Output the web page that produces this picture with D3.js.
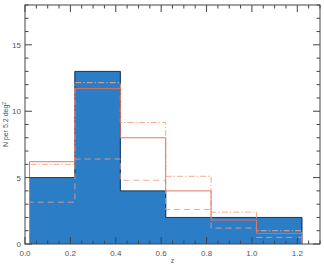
<!DOCTYPE html>
<html>
<head>
<meta charset="utf-8" />
<script src="https://cdn.jsdelivr.net/npm/d3@7"></script>
<style>
  body { margin: 0; background: #fff; }
  text { font-family: "Liberation Sans", "DejaVu Sans", sans-serif; fill: #555; }
</style>
</head>
<body>
<div id="chart"></div>
<script>
// bin edges in z
var binEdges = [0.02, 0.22, 0.42, 0.62, 0.82, 1.02, 1.22];
// counts per bin
var observed = [5, 13, 4, 2, 2, 2];
var modelSolid = [6.2, 11.7, 8.0, 4.0, 1.8, 0.8];
var modelDashDot = [6.0, 12.15, 9.15, 5.1, 2.4, 1.0];
var modelDashed = [3.15, 6.4, 4.8, 2.6, 1.2, 0.5];

var xTicks = [0.0, 0.2, 0.4, 0.6, 0.8, 1.0, 1.2];
var yTicks = [0, 5, 10, 15];

var W = 324, H = 267;
var pLeft = 25, pRight = 320, pTop = 5, pBottom = 244;

var svg = d3.select("#chart").append("svg")
  .attr("width", W).attr("height", H);

var x = d3.scaleLinear().domain([0, 1.3]).range([pLeft, pRight]);
var y = d3.scaleLinear().domain([0, 18]).range([pBottom, pTop]);

// filled bars (slightly overlapped so no seams show)
svg.selectAll("rect.bar")
  .data(observed).enter()
  .append("rect")
  .attr("class", "bar")
  .attr("x", function (d, i) { return x(binEdges[i]) - 0.5; })
  .attr("width", function (d, i) { return x(binEdges[i + 1]) - x(binEdges[i]) + 1; })
  .attr("y", function (d) { return y(d); })
  .attr("height", function (d) { return y(0) - y(d); })
  .style("fill", "#2b7dc6");

function stepPoints(vals) {
  var pts = [[binEdges[0], 0]];
  vals.forEach(function (v, i) {
    pts.push([binEdges[i], v]);
    pts.push([binEdges[i + 1], v]);
  });
  pts.push([binEdges[binEdges.length - 1], 0]);
  return pts;
}

var line = d3.line()
  .x(function (d) { return x(d[0]); })
  .y(function (d) { return y(d[1]); });

// outline of observed histogram
svg.append("path")
  .attr("d", line(stepPoints(observed)))
  .style("fill", "none").style("stroke", "#1d3550").style("stroke-width", 1);

var series = [
  { vals: modelDashDot, color: "#f2a98a", dash: "6,2,1.5,2", opacity: 0.95 },
  { vals: modelDashed, color: "#e8a088", dash: "6,4", opacity: 0.85 },
  { vals: modelSolid, color: "#e0705e", dash: null, opacity: 0.95 }
];

series.forEach(function (s) {
  svg.append("path")
    .attr("d", line(stepPoints(s.vals)))
    .style("fill", "none")
    .style("stroke", s.color)
    .style("stroke-opacity", s.opacity)
    .style("stroke-width", 1)
    .style("stroke-dasharray", s.dash);
});

// frame
var axisColor = "#444";
svg.append("rect")
  .attr("x", pLeft).attr("y", pTop)
  .attr("width", pRight - pLeft).attr("height", pBottom - pTop)
  .style("fill", "none").style("stroke", axisColor).style("stroke-width", 1);

// ticks (inward, mirrored)
var xMinor = d3.range(0, 1.3001, 0.05);
xMinor.forEach(function (t) {
  var major = Math.abs(Math.round(t * 5) - t * 5) < 1e-6;
  var len = major ? 7 : 3.5;
  svg.append("line").attr("x1", x(t)).attr("x2", x(t))
    .attr("y1", pBottom).attr("y2", pBottom - len)
    .style("stroke", axisColor);
  svg.append("line").attr("x1", x(t)).attr("x2", x(t))
    .attr("y1", pTop).attr("y2", pTop + len)
    .style("stroke", axisColor);
});
d3.range(0, 19, 1).forEach(function (t) {
  var len = t % 5 === 0 ? 7 : 3.5;
  svg.append("line").attr("y1", y(t)).attr("y2", y(t))
    .attr("x1", pLeft).attr("x2", pLeft + len)
    .style("stroke", axisColor);
  svg.append("line").attr("y1", y(t)).attr("y2", y(t))
    .attr("x1", pRight).attr("x2", pRight - len)
    .style("stroke", axisColor);
});

// tick labels
svg.selectAll("text.xt").data(xTicks).enter()
  .append("text").attr("class", "xt")
  .attr("x", function (d) { return x(d); })
  .attr("y", pBottom + 12)
  .attr("text-anchor", "middle")
  .style("font-size", "8px")
  .text(function (d) { return d.toFixed(1); });

svg.selectAll("text.yt").data(yTicks).enter()
  .append("text").attr("class", "yt")
  .attr("x", pLeft - 4)
  .attr("y", function (d) { return y(d) + 3; })
  .attr("text-anchor", "end")
  .style("font-size", "8px")
  .text(function (d) { return d; });

svg.append("text")
  .attr("x", (pLeft + pRight) / 2).attr("y", 263)
  .attr("text-anchor", "middle")
  .style("font-size", "7px")
  .text("z");

var yl = svg.append("text")
  .attr("transform", "translate(8," + ((pTop + pBottom) / 2) + ") rotate(-90)")
  .attr("text-anchor", "middle")
  .style("font-size", "7px");
yl.append("tspan").text("N per 5.2 deg");
yl.append("tspan").attr("dy", -2.5).style("font-size", "5px").text("2");
</script>
</body>
</html>
